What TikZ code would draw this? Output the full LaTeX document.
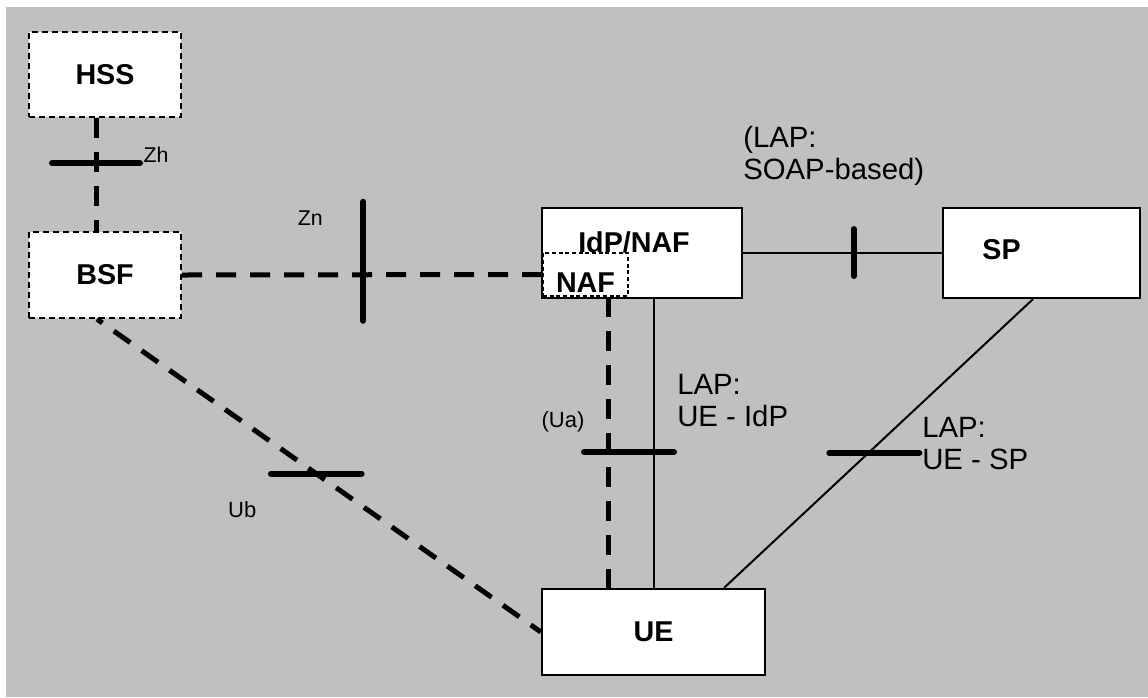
\documentclass[tikz,border=0pt]{standalone}
\usepackage{fontspec}
\setmainfont{Liberation Sans}
\definecolor{bggray}{HTML}{C0C0C0}
\begin{document}
\begin{tikzpicture}[x=0.75pt,y=-0.75pt,
    box/.style={draw, fill=white, line width=1.7pt, inner sep=0pt, font=\fontsize{21.5}{25}\selectfont\bfseries},
    dbox/.style={box, dash pattern=on 4.5pt off 3pt},
    link/.style={line width=3.75pt, dash pattern=on 15pt off 10.5pt},
    lapline/.style={line width=1.5pt},
    tick/.style={line width=4.5pt, line cap=round},
    small/.style={font=\fontsize{16}{19}\selectfont, inner sep=0pt},
    mid/.style={font=\fontsize{16.5}{19}\selectfont, inner sep=0pt},
    lap/.style={font=\fontsize{22}{24}\selectfont, align=left, inner sep=0pt}]

    % Background
    \useasboundingbox (0,0) rectangle (1148,697);
    \fill[bggray] (6,7) rectangle (1148,697);

    % Boxes
    \node[dbox, minimum width=114pt, minimum height=63.75pt] (hss) at (105,74.5) {HSS};
    \node[dbox, minimum width=114pt, minimum height=64.5pt] (bsf) at (105,275) {BSF};
    \node[box, minimum width=150pt, minimum height=67.5pt,
        label={[font=\fontsize{21.5}{25}\selectfont\bfseries, xshift=-6pt, yshift=8.25pt]center:IdP/NAF}] (idp) at (642,253) {};
    \node[box, line width=1.3pt, dash pattern=on 3pt off 2pt, minimum width=63.75pt, minimum height=32.25pt,
        label={[font=\fontsize{21.5}{25}\selectfont\bfseries, yshift=-6.4pt]center:NAF}] (naf) at (585.5,274.5) {};
    \node[box, minimum width=147.75pt, minimum height=67.5pt,
        label={[font=\fontsize{21.5}{25}\selectfont\bfseries, xshift=-30pt, yshift=2.25pt]center:SP}] (sp) at (1041.5,253) {};
    \node[box, minimum width=167.25pt, minimum height=64.5pt] (ue) at (653.5,632) {UE};

    % Zh
    \draw[link] ([xshift=-6.75pt]hss.south) -- coordinate[pos=0.4] (zh) ([xshift=-6.75pt]bsf.north);
    \draw[tick] ([xshift=-33pt]zh) -- ([xshift=33pt]zh);
    \node[small, anchor=west] (zhlbl) at ([xshift=35.5pt, yshift=6pt]zh) {Zh};

    % Zn
    \draw[link] (bsf.east) -- coordinate[pos=0.503] (zn) (naf.west);
    \draw[tick] ([yshift=54.75pt]zn) -- ([yshift=-34.5pt]zn);
    \node[small] (znlbl) at ([xshift=-39.75pt, yshift=42.75pt]zn) {Zn};

    % Ub
    \draw[link, dash phase=10pt] ([xshift=-6pt]bsf.south) -- coordinate[pos=0.494] (ub) (ue.west);
    \draw[tick] ([xshift=-34pt]ub) -- ([xshift=34pt]ub);
    \node[mid] (ublbl) at ([xshift=-55.5pt, yshift=-27pt]ub) {Ub};

    % (Ua) and LAP UE - IdP
    \draw[link] ([xshift=16.875pt]naf.south) -- coordinate[pos=0.533] (ua) ([xshift=16.875pt]naf.south |- ue.north);
    \draw[lapline] (idp.south -| ue.north) -- (ue.north);
    \draw[tick] ([xshift=-18pt]ua) -- ([xshift=49.5pt]ua);
    \node[mid] (ualbl) at ([xshift=-33.75pt, yshift=22.5pt]ua) {(Ua)};
    \node[lap, anchor=west] (lapidp) at (677,401) {LAP:\\UE - IdP};

    % LAP UE - SP
    \draw[lapline] ([xshift=-6.4pt]sp.south) -- coordinate[pos=0.533] (uesp) ([xshift=52.9pt]ue.north);
    \draw[tick] ([xshift=-29.25pt]uesp) -- ([xshift=38.25pt]uesp);
    \node[lap, anchor=west] (lapsp) at (922,444) {LAP:\\UE - SP};

    % LAP SOAP
    \draw[lapline] (idp.east) -- coordinate[pos=0.557] (soap) (sp.west);
    \draw[tick] ([yshift=18pt]soap) -- ([yshift=-17.25pt]soap);
    \node[lap, anchor=west] (lapsoap) at (743,156) {(LAP:\\SOAP-based)};

\end{tikzpicture}
\end{document}
